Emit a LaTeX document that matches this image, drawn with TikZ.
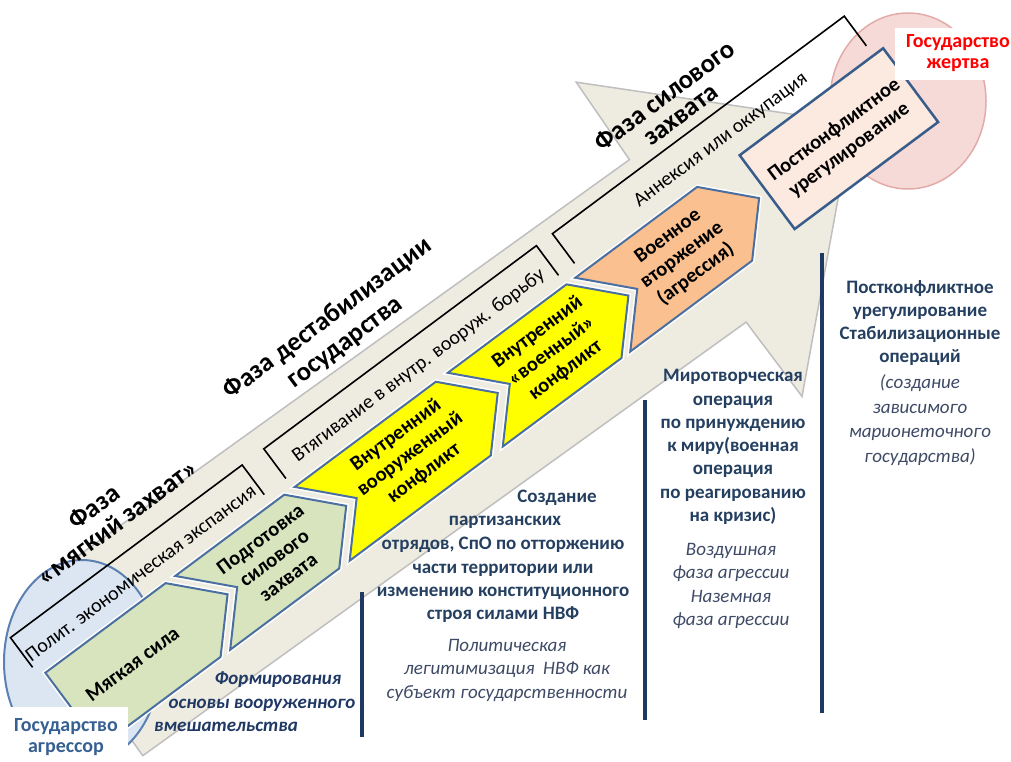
\documentclass[tikz,border=0pt]{standalone}
\usepackage{fontspec}
\setmainfont{Carlito}
\definecolor{bandf}{HTML}{EEECE1}
\definecolor{bandedge}{HTML}{BFBFBF}
\definecolor{chevedge}{HTML}{4A6FA0}
\definecolor{boxedge}{HTML}{385D8A}
\definecolor{greenf}{HTML}{D7E4BD}
\definecolor{yellowf}{HTML}{FFFF00}
\definecolor{orangef}{HTML}{FAC090}
\definecolor{pinkbox}{HTML}{FCE9DF}
\definecolor{navy}{HTML}{1F3864}
\definecolor{navytxt}{HTML}{243F60}
\definecolor{greynavy}{HTML}{3E4A66}
\definecolor{circblue}{HTML}{DCE6F2}
\definecolor{circedge}{HTML}{5B80B2}
\definecolor{pinkell}{HTML}{F5DAD7}
\definecolor{pinkedge}{HTML}{E2ABA8}
\definecolor{aggr}{HTML}{366092}
\begin{document}
\begin{tikzpicture}[x=1pt,y=1pt,
  chev/.style={draw=chevedge, line width=2pt, line join=miter, preaction={draw=white,line width=5pt}},
  brk/.style={draw=black, line width=1.6pt, line join=miter},
  chevtxt/.style={font=\fontsize{20.5}{23.5}\selectfont\bfseries, align=center, text=black, inner sep=0pt},
  brktxt/.style={font=\fontsize{20}{22}\selectfont, text=black, inner sep=0pt},
  phase/.style={font=\fontsize{26.5}{30}\selectfont\bfseries, text=black, inner sep=0pt},
  bluetxt/.style={font=\fontsize{19}{23.3}\selectfont\bfseries, text=navytxt, align=center, inner sep=0pt},
  ittxt/.style={font=\fontsize{19}{23.5}\selectfont\itshape, text=greynavy, align=center, inner sep=0pt},
  formtxt/.style={font=\fontsize{19}{23}\selectfont\bfseries\itshape, text=navy, inner sep=0pt},
  navyline/.style={draw=navy, line width=4pt},
  statetxt/.style={font=\fontsize{20}{21}\selectfont\bfseries, align=center, inner sep=0pt},
]
\useasboundingbox (0,0) rectangle (1011,-762);
\clip (0,0) rectangle (1011,-762);
\fill[white] (0,0) rectangle (1011,-762);
% big arrow
\begin{scope}[rotate=35.7]
 \draw[fill=bandf, draw=bandedge, line width=1.5pt, line join=miter]
   (-325,-497) -- (418,-497) -- (420,-403) -- (620,-597) -- (420,-790) -- (418,-697) -- (-325,-697) -- cycle;
\end{scope}
% states
\draw[fill=circblue, draw=circedge, line width=2pt] (82,-662) ellipse [x radius=78, y radius=102];
\draw[fill=pinkell, draw=pinkedge, line width=1.5pt] (908,-101) ellipse [x radius=78, y radius=88];
\begin{scope}[rotate=35.7, transform shape]
\begin{scope}[rotate around={1:(-193,-616)}]
 % brackets
 \draw[brk] (-362,-558) -- (-362,-521) -- (-73,-521) -- (-73,-558);
 \draw[brk] (-46,-558) -- (-46,-521) -- (294,-521) -- (294,-558);
 \draw[brk] (314,-558) -- (314,-521) -- (678,-521) -- (678,-558);
 \node[brktxt] (b1) at (-219,-547) {Полит. экономическая экспансия};
 \node[brktxt] (b2) at (128,-547) {Втягивание в внутр. вооруж. борьбу};
 \node[brktxt] (b3) at (505,-547) {Аннексия или оккупация};
 % chevrons
 \draw[chev, fill=greenf] (-355,-570) -- (-205,-570) -- (-162,-616) -- (-205,-662) -- (-355,-662) -- cycle;
 \draw[chev, fill=greenf] (-193,-570) -- (-57,-570) -- (-14,-616) -- (-57,-662) -- (-193,-662) -- (-150,-616) -- cycle;
 \draw[chev, fill=yellowf] (-44,-570) -- (132,-570) -- (175,-616) -- (132,-662) -- (-44,-662) -- (-1,-616) -- cycle;
 \draw[chev, fill=yellowf] (147,-570) -- (295,-570) -- (338,-616) -- (295,-662) -- (147,-662) -- (190,-616) -- cycle;
 \draw[chev, fill=orangef] (306,-570) -- (458,-570) -- (501,-616) -- (458,-662) -- (306,-662) -- (349,-616) -- cycle;
 \draw[draw=boxedge, line width=2.5pt, fill=pinkbox] (511,-570) rectangle (690,-662);
 \node[chevtxt] (c1) at (-280,-615) {Мягкая сила};
 \node[chevtxt] (c2) at (-103,-615) {Подготовка\\силового\\захвата};
 \node[chevtxt] (c3) at (68,-613) {Внутренний\\вооруженный\\конфликт};
 \node[chevtxt] (c4) at (243,-615) {Внутренний\\«военный»\\конфликт};
 \node[chevtxt] (c5) at (405,-616) {Военное\\вторжение\\(агрессия)};
 \node[chevtxt, font=\fontsize{20.5}{25}\selectfont\bfseries] (c6) at (602,-619) {Постконфликтное\\урегулирование};
 % phase labels
 \node[phase] (p1a) at (-217,-466) {Фаза};
 \node[phase] (p1b) at (-207,-492) {«мягкий захват»};
 \node[phase] (p2a) at (83,-455) {Фаза дестабилизации};
 \node[phase] (p2b) at (83,-487) {государства};
 \node[phase] (p3a) at (486,-477) {Фаза силового};
 \node[phase] (p3b) at (488,-504) {захвата};
\end{scope}
\end{scope}
% state label boxes
\fill[white] (0,-707) rectangle (128,-762);
\node[statetxt, text=aggr] (agr) at (66,-737) {Государство\\агрессор};
\fill[white] (895,-28) rectangle (1011,-80);
\node[statetxt, text=red] (vic) at (958,-53) {Государство\\жертва};
% separator lines
\draw[navyline] (362,-592) -- (362,-737);
\draw[navyline] (645,-400) -- (645,-720);
\draw[navyline] (822,-253) -- (822,-713);
% text blocks
\node[formtxt] (fa) at (278,-680) {Формирования};
\node[formtxt] (fb) at (262,-705) {основы вооруженного};
\node[formtxt] (fc) at (226,-727) {вмешательства};
\node[bluetxt] (sa) at (557,-498) {Создание};
\node[bluetxt] (sb) at (505,-522) {партизанских};
\node[bluetxt] (sc) at (503,-580) {отрядов, СпО по отторжению\\части территории или\\изменению конституционного\\строя силами НВФ};
\node[ittxt] (sd) at (507,-670) {Политическая\\легитимизация\ \ НВФ как\\субъект государственности};
\node[bluetxt] (ma) at (733,-447) {Миротворческая\\операция\\по принуждению\\к миру(военная\\операция\\по реагированию\\на кризис)};
\node[ittxt] (mb) at (731,-586) {Воздушная\\фаза агрессии\\Наземная\\фаза агрессии};
\node[bluetxt] (pa) at (920,-323) {Постконфликтное\\урегулирование\\Стабилизационные\\операций};
\node[ittxt, font=\fontsize{19}{24.7}\selectfont\itshape] (pb) at (920,-420) {(создание\\зависимого\\марионеточного\\государства)};
\end{tikzpicture}
\end{document}
